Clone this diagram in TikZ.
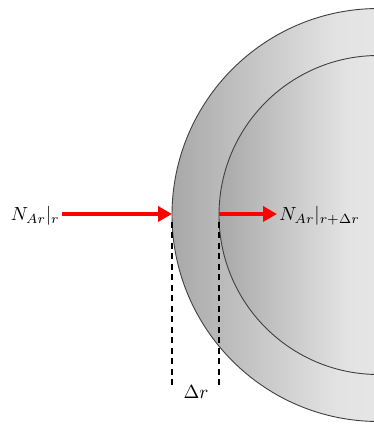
\documentclass[tikz,border=0pt]{standalone}
\usetikzlibrary{arrows.meta}
\definecolor{edgeC}{HTML}{404040}
\definecolor{fluxRed}{HTML}{FF0000}
\pgfdeclarehorizontalshading{shellshade}{100bp}{%
  color(0bp)=(black!34); color(25bp)=(black!34); color(45bp)=(black!11);
  color(75bp)=(black!5); color(100bp)=(black!5)}
\tikzset{
  shell/.style={draw=edgeC, line width=0.9pt, shading=shellshade, shading angle=0},
  flux/.style={draw=fluxRed, line width=4pt, -{Triangle[length=14pt,width=15pt]}},
  guide/.style={draw=black, line width=1.6pt, dash pattern=on 6pt off 4.5pt},
  lbl/.style={inner sep=0pt, scale=1.9}
}
\begin{document}
\begin{tikzpicture}[x=1pt,y=1pt]
\useasboundingbox (0,0) rectangle (374,424);
\begin{scope}
\clip (0,0) rectangle (374,424);
\path[shell] (378.5,209) circle[radius=206.5];
\path[shell] (378.5,209) circle[radius=159.5];
\end{scope}
\coordinate (outerL) at (172,210);
\coordinate (innerL) at (219,210);
\coordinate (srcL) at (62,210);
\coordinate (tipR) at (277,210);
\coordinate (dLtop) at (172,202);
\coordinate (dLbot) at (172,38);
\coordinate (dRtop) at (219,202);
\coordinate (dRbot) at (219,38);
\node[lbl, anchor=east] (nin) at (60,208) {$N_{Ar}|_r$};
\node[lbl, anchor=west] (nout) at (279,208) {$N_{Ar}|_{r+\Delta r}$};
\node[lbl] (dr) at (196,32) {$\Delta r$};
\draw[flux] (srcL) -- (outerL);
\draw[flux] (innerL) -- (tipR);
\draw[guide] (dLtop) -- (dLbot);
\draw[guide] (dRtop) -- (dRbot);
\end{tikzpicture}
\end{document}
